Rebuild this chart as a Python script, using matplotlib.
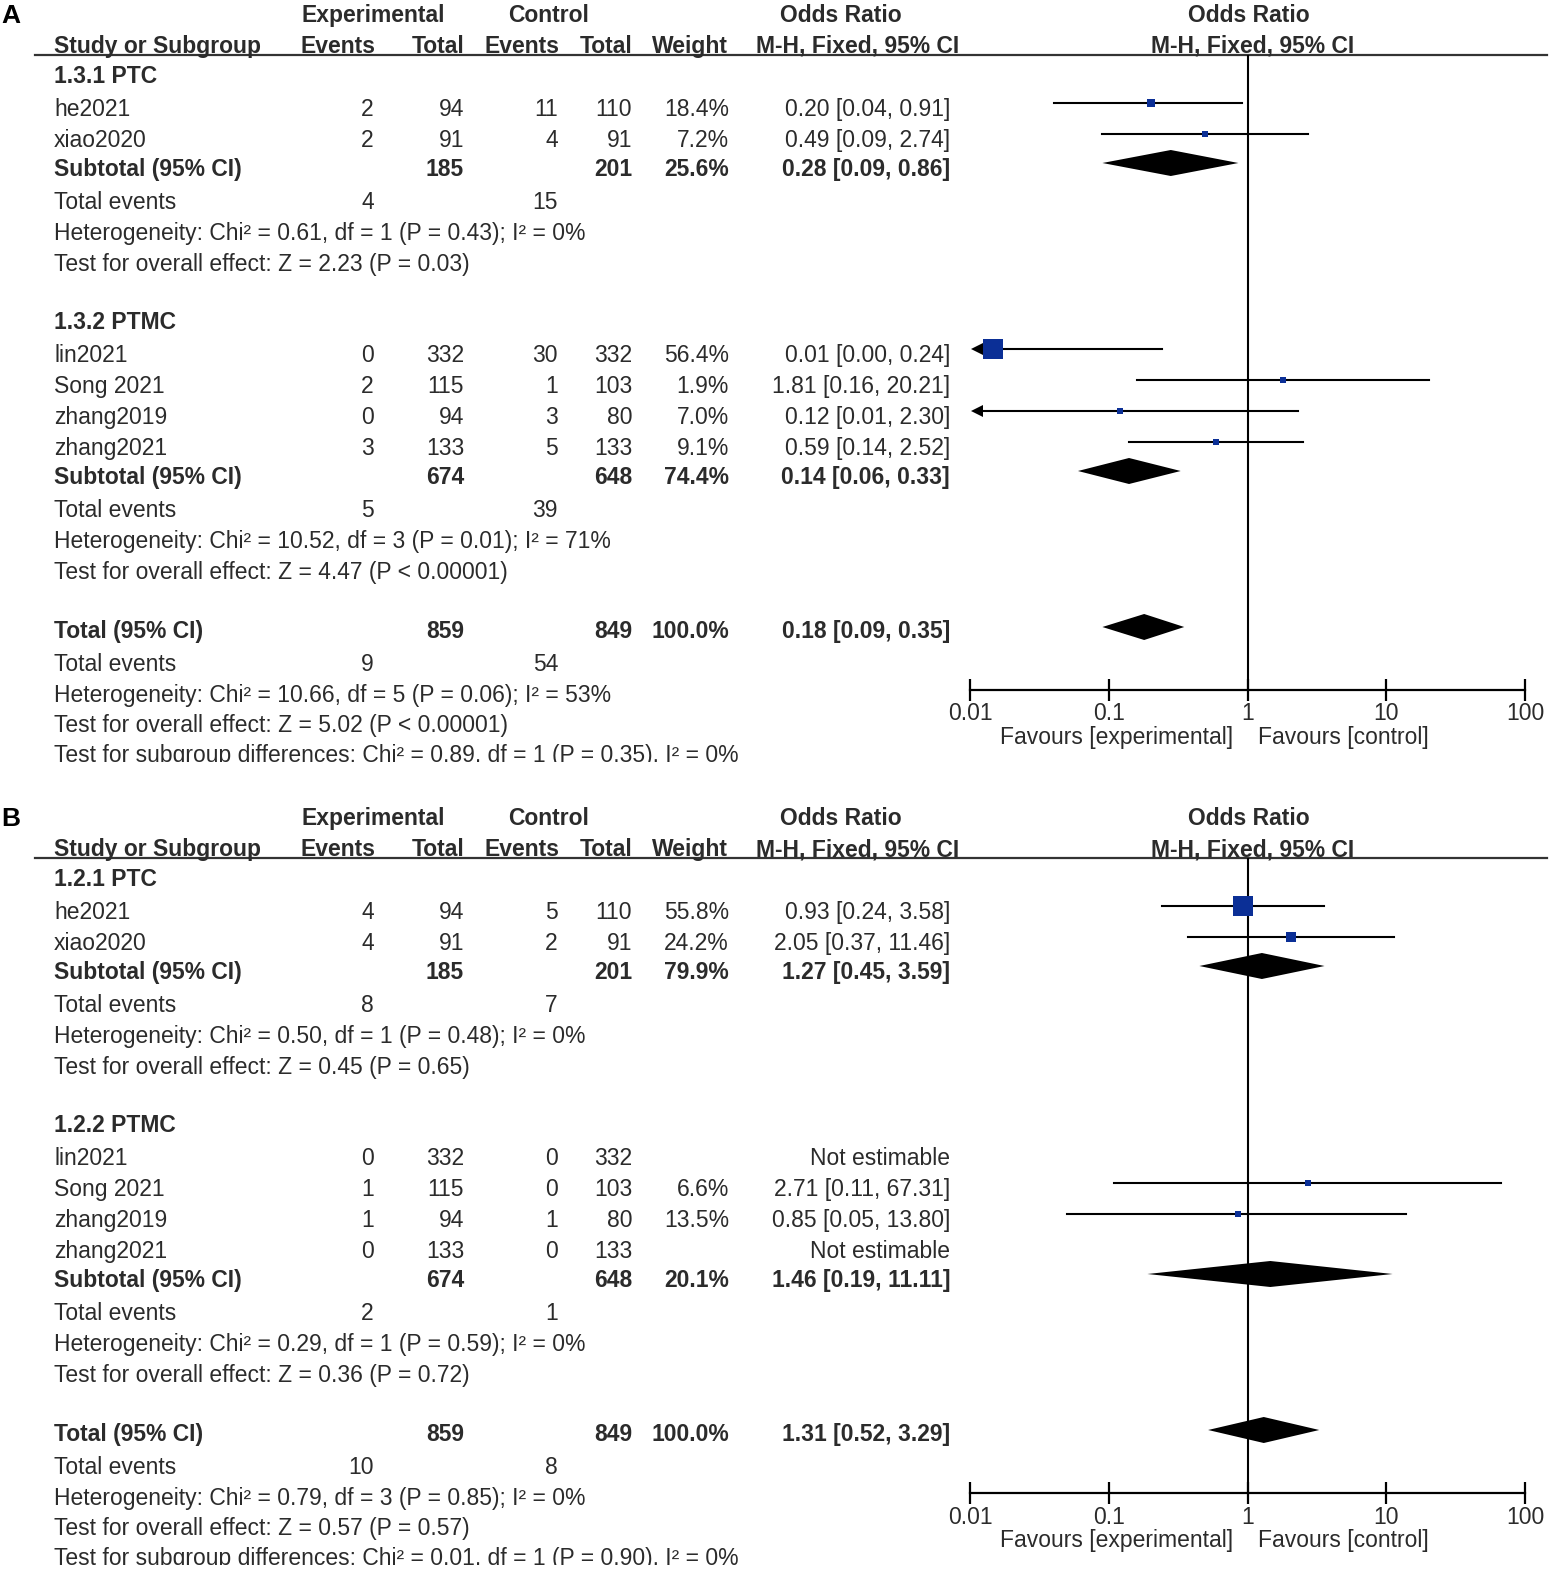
import numpy as np
import matplotlib
matplotlib.use('Agg')
import matplotlib.pyplot as plt

plt.rcParams['font.family'] = ['Liberation Sans', 'DejaVu Sans']

# ---- panel A (1.3.x) ----
a_groups = ['1.3.1 PTC', '1.3.2 PTMC']
a_names = ['he2021', 'xiao2020', 'lin2021', 'Song 2021', 'zhang2019', 'zhang2021']
a_group = [0, 0, 1, 1, 1, 1]
a_exp_ev = [2, 2, 0, 2, 0, 3]
a_exp_n = [94, 91, 332, 115, 94, 133]
a_ctl_ev = [11, 4, 30, 1, 3, 5]
a_ctl_n = [110, 91, 332, 103, 80, 133]
a_weight = [18.4, 7.2, 56.4, 1.9, 7.0, 9.1]
a_or = [0.20, 0.49, 0.0147, 1.81, 0.12, 0.59]
a_lo = [0.04, 0.09, 0.0006, 0.16, 0.006, 0.14]
a_hi = [0.91, 2.74, 0.24, 20.21, 2.30, 2.52]
a_sub_exp_n = [185, 674]
a_sub_ctl_n = [201, 648]
a_sub_weight = [25.6, 74.4]
a_sub_or = [0.28, 0.14]
a_sub_lo = [0.09, 0.06]
a_sub_hi = [0.86, 0.33]
a_sub_exp_ev = [4, 5]
a_sub_ctl_ev = [15, 39]
a_sub_het = ['Chi² = 0.61, df = 1 (P = 0.43); I² = 0%',
             'Chi² = 10.52, df = 3 (P = 0.01); I² = 71%']
a_sub_z = ['Z = 2.23 (P = 0.03)', 'Z = 4.47 (P < 0.00001)']
a_tot = [859, 849, 100.0, 0.18, 0.09, 0.35, 9, 54]
a_tot_het = 'Chi² = 10.66, df = 5 (P = 0.06); I² = 53%'
a_tot_z = 'Z = 5.02 (P < 0.00001)'
a_diff = 'Chi² = 0.89, df = 1 (P = 0.35), I² = 0%'

# ---- panel B (1.2.x) ----
b_groups = ['1.2.1 PTC', '1.2.2 PTMC']
b_names = ['he2021', 'xiao2020', 'lin2021', 'Song 2021', 'zhang2019', 'zhang2021']
b_group = [0, 0, 1, 1, 1, 1]
b_exp_ev = [4, 4, 0, 1, 1, 0]
b_exp_n = [94, 91, 332, 115, 94, 133]
b_ctl_ev = [5, 2, 0, 0, 1, 0]
b_ctl_n = [110, 91, 332, 103, 80, 133]
b_weight = [55.8, 24.2, None, 6.6, 13.5, None]
b_or = [0.93, 2.05, None, 2.71, 0.85, None]
b_lo = [0.24, 0.37, None, 0.11, 0.05, None]
b_hi = [3.58, 11.46, None, 67.31, 13.80, None]
b_sub_exp_n = [185, 674]
b_sub_ctl_n = [201, 648]
b_sub_weight = [79.9, 20.1]
b_sub_or = [1.27, 1.46]
b_sub_lo = [0.45, 0.19]
b_sub_hi = [3.59, 11.11]
b_sub_exp_ev = [8, 2]
b_sub_ctl_ev = [7, 1]
b_sub_het = ['Chi² = 0.50, df = 1 (P = 0.48); I² = 0%',
             'Chi² = 0.29, df = 1 (P = 0.59); I² = 0%']
b_sub_z = ['Z = 0.45 (P = 0.65)', 'Z = 0.36 (P = 0.72)']
b_tot = [859, 849, 100.0, 1.31, 0.52, 3.29, 10, 8]
b_tot_het = 'Chi² = 0.79, df = 3 (P = 0.85); I² = 0%'
b_tot_z = 'Z = 0.57 (P = 0.57)'
b_diff = 'Chi² = 0.01, df = 1 (P = 0.90), I² = 0%'

ticks = [0.01, 0.1, 1, 10, 100]
tick_labels = ['0.01', '0.1', '1', '10', '100']

TXT = '#2b2b2b'
BLUE = '#0b2f96'
FS = 16.5
W, HFIG = 1567, 1584
PH = 762  # panel height in px


def ci_text(o, l, h):
    return '%.2f [%.2f, %.2f]' % (o, l, h)


def draw_panel(fig, top, letter, p):
    tax = fig.add_axes([0, 1 - (top + PH) / HFIG, 1, PH / HFIG])
    tax.set_xlim(0, W)
    tax.set_ylim(PH, 0)
    tax.axis('off')
    fax = fig.add_axes([970 / W, 1 - (top + 690) / HFIG, 555 / W, (690 - 55) / HFIG])
    fax.set_xscale('log')
    fax.set_xlim(0.01, 100)
    fax.set_ylim(690, 55)
    for s in ['top', 'left', 'right']:
        fax.spines[s].set_visible(False)
    fax.spines['bottom'].set_linewidth(1.6)
    fax.set_yticks([])
    fax.set_xticks(ticks)
    fax.set_xticklabels(tick_labels)
    fax.minorticks_off()
    fax.tick_params(axis='x', direction='inout', length=16, width=1.6,
                    labelsize=FS, labelcolor=TXT, pad=1)
    fax.patch.set_alpha(0)
    fax.axvline(1, color='black', lw=1.5)

    def txt(x, y, s, ha='left', bold=False):
        tax.text(x, y + 8, s, ha=ha, va='baseline', fontsize=FS, color=TXT,
                 fontweight='bold' if bold else 'normal', clip_on=True)

    tax.text(1, 23, letter, fontsize=19, fontweight='bold', color='black',
             va='baseline')
    txt(373, 14, 'Experimental', 'center', True)
    txt(549, 14, 'Control', 'center', True)
    txt(841, 14, 'Odds Ratio', 'center', True)
    txt(1249, 14, 'Odds Ratio', 'center', True)
    txt(54, 45, 'Study or Subgroup', bold=True)
    txt(376, 45, 'Events', 'right', True)
    txt(465, 45, 'Total', 'right', True)
    txt(560, 45, 'Events', 'right', True)
    txt(632, 45, 'Total', 'right', True)
    txt(728, 45, 'Weight', 'right', True)
    txt(858, 45, 'M-H, Fixed, 95% CI', 'center', True)
    txt(1253, 45, 'M-H, Fixed, 95% CI', 'center', True)
    tax.plot([35, 1547], [55, 55], color='#333333', lw=1.6)

    def diamond(y, o, l, h):
        fax.fill([l, o, h, o], [y, y - 13, y, y + 13], color='black', lw=0)

    y = 75
    for g in range(2):
        txt(54, y, p['groups'][g], bold=True)
        y += 33
        for i in [k for k, gg in enumerate(p['group']) if gg == g]:
            txt(54, y, p['names'][i])
            txt(374, y, str(p['exp_ev'][i]), 'right')
            txt(464, y, str(p['exp_n'][i]), 'right')
            txt(558, y, str(p['ctl_ev'][i]), 'right')
            txt(632, y, str(p['ctl_n'][i]), 'right')
            o = p['or'][i]
            if o is None:
                txt(950, y, 'Not estimable', 'right')
            else:
                lo, hi, w = p['lo'][i], p['hi'][i], p['weight'][i]
                txt(729, y, '%.1f%%' % w, 'right')
                txt(950, y, ci_text(o, lo, hi), 'right')
                my = y - 5
                fax.plot([max(lo, 0.0112), hi], [my, my], color='black', lw=1.5)
                if lo < 0.01:
                    fax.plot([0.0112], [my], marker='<', color='black', ms=9, mew=0)
                side = max(5.5, 20 * (w / 55.8) ** 0.77)
                fax.scatter([o], [my], marker='s', s=(side * 0.72) ** 2,
                            color=BLUE, lw=0, zorder=3)
            y += 31
        y -= 2
        txt(54, y, 'Subtotal (95% CI)', bold=True)
        txt(464, y, str(p['sub_exp_n'][g]), 'right', True)
        txt(632, y, str(p['sub_ctl_n'][g]), 'right', True)
        txt(729, y, '%.1f%%' % p['sub_weight'][g], 'right', True)
        so, sl, sh = p['sub_or'][g], p['sub_lo'][g], p['sub_hi'][g]
        txt(950, y, ci_text(so, sl, sh), 'right', True)
        diamond(y - 5, so, sl, sh)
        y += 33
        txt(54, y, 'Total events')
        txt(374, y, str(p['sub_exp_ev'][g]), 'right')
        txt(558, y, str(p['sub_ctl_ev'][g]), 'right')
        y += 31
        txt(54, y, 'Heterogeneity: ' + p['sub_het'][g])
        y += 31
        txt(54, y, 'Test for overall effect: ' + p['sub_z'][g])
        y += 58

    y += 1
    t = p['tot']
    txt(54, y, 'Total (95% CI)', bold=True)
    txt(464, y, str(t[0]), 'right', True)
    txt(632, y, str(t[1]), 'right', True)
    txt(729, y, '%.1f%%' % t[2], 'right', True)
    txt(950, y, ci_text(t[3], t[4], t[5]), 'right', True)
    diamond(y - 3, t[3], t[4], t[5])
    y += 33
    txt(54, y, 'Total events')
    txt(374, y, str(t[6]), 'right')
    txt(558, y, str(t[7]), 'right')
    y += 31
    txt(54, y, 'Heterogeneity: ' + p['tot_het'])
    y += 30
    txt(54, y, 'Test for overall effect: ' + p['tot_z'])
    y += 30
    txt(54, y, 'Test for subgroup differences: ' + p['diff'])

    txt(1233, 736, 'Favours [experimental]', 'right')
    txt(1258, 736, 'Favours [control]')


panel_a = dict(groups=a_groups, names=a_names, group=a_group, exp_ev=a_exp_ev,
               exp_n=a_exp_n, ctl_ev=a_ctl_ev, ctl_n=a_ctl_n, weight=a_weight,
               lo=a_lo, hi=a_hi, sub_exp_n=a_sub_exp_n, sub_ctl_n=a_sub_ctl_n,
               sub_weight=a_sub_weight, sub_or=a_sub_or, sub_lo=a_sub_lo,
               sub_hi=a_sub_hi, sub_exp_ev=a_sub_exp_ev, sub_ctl_ev=a_sub_ctl_ev,
               sub_het=a_sub_het, sub_z=a_sub_z, tot=a_tot, tot_het=a_tot_het,
               tot_z=a_tot_z, diff=a_diff)
panel_a['or'] = a_or
panel_b = dict(groups=b_groups, names=b_names, group=b_group, exp_ev=b_exp_ev,
               exp_n=b_exp_n, ctl_ev=b_ctl_ev, ctl_n=b_ctl_n, weight=b_weight,
               lo=b_lo, hi=b_hi, sub_exp_n=b_sub_exp_n, sub_ctl_n=b_sub_ctl_n,
               sub_weight=b_sub_weight, sub_or=b_sub_or, sub_lo=b_sub_lo,
               sub_hi=b_sub_hi, sub_exp_ev=b_sub_exp_ev, sub_ctl_ev=b_sub_ctl_ev,
               sub_het=b_sub_het, sub_z=b_sub_z, tot=b_tot, tot_het=b_tot_het,
               tot_z=b_tot_z, diff=b_diff)
panel_b['or'] = b_or

fig = plt.figure(figsize=(W / 100, HFIG / 100), dpi=100)
draw_panel(fig, 0, 'A', panel_a)
draw_panel(fig, 803, 'B', panel_b)
fig.savefig('out.png', dpi=100, facecolor='white')
